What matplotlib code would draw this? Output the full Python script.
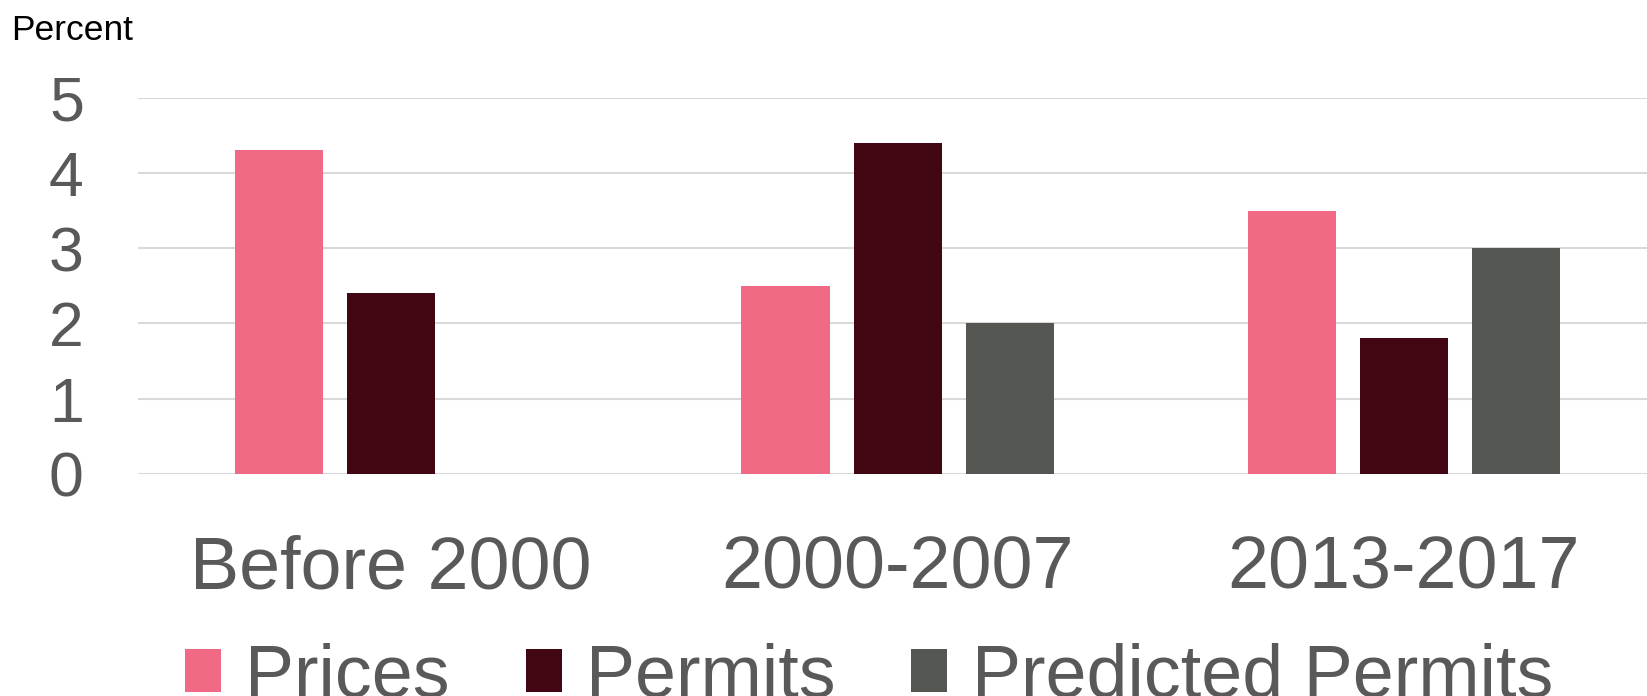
import numpy as np
import matplotlib.pyplot as plt
from matplotlib.patches import Patch

plt.rcParams['font.family'] = ['Liberation Sans', 'DejaVu Sans']

# Average annual growth, percent
periods = ["Before 2000", "2000-2007", "2013-2017"]
prices = [4.3, 2.5, 3.5]
permits = [2.4, 4.4, 1.8]
predicted_permits = [np.nan, 2.0, 3.0]

series_names = ["Prices", "Permits", "Predicted Permits"]
colors = ["#F06A86", "#420613", "#545651"]
grey = "#595959"

fig = plt.figure(figsize=(16.47, 6.96), dpi=100)
ax = fig.add_axes([0.0838, 0.3194, 0.9162, 0.5402])

x = np.arange(len(periods))
width = 0.174
step = 0.2213
for i, (vals, c) in enumerate(zip([prices, permits, predicted_permits], colors)):
    ax.bar(x + (i - 1) * step, vals, width=width, color=c, zorder=3)

ax.set_xlim(-0.5, 2.48)
ax.set_ylim(0, 5)
ax.set_yticks(range(6))
ax.yaxis.grid(True, color="#D9D9D9", linewidth=1.5, zorder=0)
ax.set_axisbelow(True)
for s in ax.spines.values():
    s.set_visible(False)

ax.set_xticks(x)
ax.set_xticklabels(periods)
ax.tick_params(axis='x', length=0, labelsize=53, labelcolor=grey, pad=44)
ax.tick_params(axis='y', length=0, labelsize=45, labelcolor=grey, pad=39)

fig.text(11 / 1647, 1 - 40 / 696, "Percent", fontsize=25.5, color="black",
         ha="left", va="baseline")

handles = [Patch(facecolor=c, edgecolor="none") for c in colors]
fig.legend(handles, series_names, loc="center", ncol=3,
           bbox_to_anchor=(869 / 1647, 1 - 677 / 696),
           frameon=False, fontsize=53, labelcolor=grey,
           handlelength=0.49, handleheight=0.52, handletextpad=0.33,
           columnspacing=1.03, borderpad=0, borderaxespad=0)

fig.savefig("out.png", dpi=100)
